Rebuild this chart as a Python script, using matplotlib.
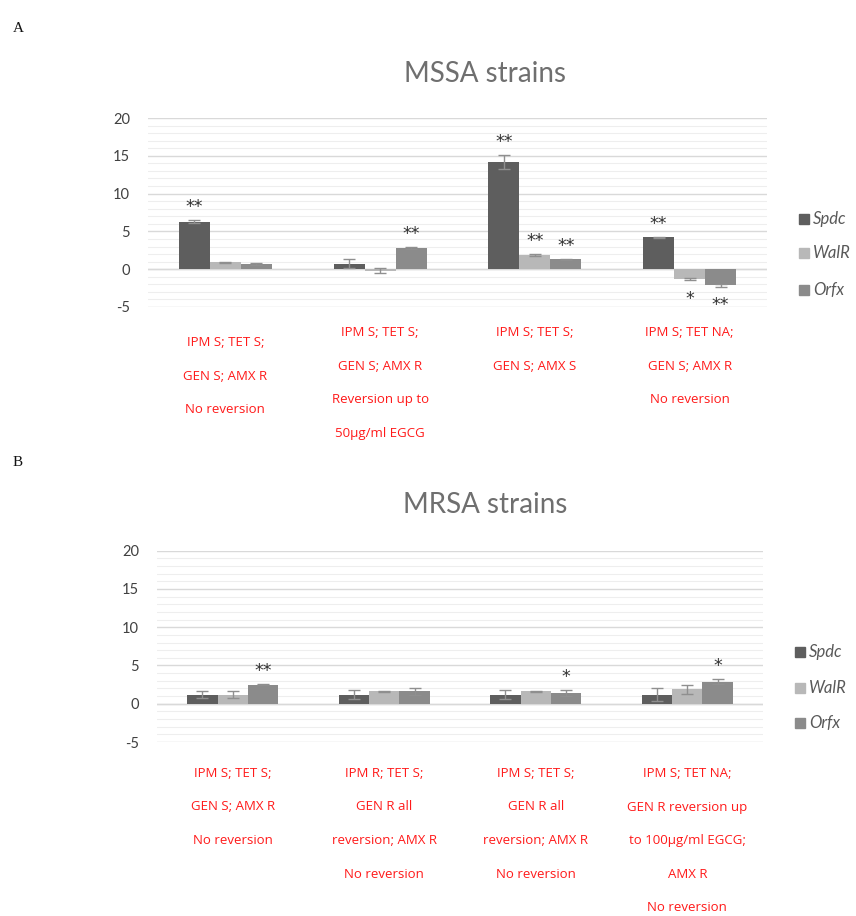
import matplotlib
matplotlib.use("Agg")
import matplotlib.pyplot as plt
import matplotlib.transforms as mtransforms
import numpy as np

plt.rcParams['font.family'] = ['Lato', 'DejaVu Sans']
plt.rcParams['axes.unicode_minus'] = False

genes = ["Spdc", "WalR", "Orfx"]
colors = ["#5e5e5e", "#b8b8b8", "#8b8b8b"]

# MSSA strains
mssa_labels = [
    "IPM S; TET S;\nGEN S; AMX R\nNo reversion",
    "IPM S; TET S;\nGEN S; AMX R\nReversion up to\n50\u00b5g/ml EGCG",
    "IPM S; TET S;\nGEN S; AMX S",
    "IPM S; TET NA;\nGEN S; AMX R\nNo reversion",
]
mssa_spdc = [6.3, 0.7, 14.2, 4.2]
mssa_walr = [0.9, -0.2, 1.9, -1.3]
mssa_orfx = [0.7, 2.8, 1.3, -2.1]
mssa_spdc_err = [0.15, 0.6, 0.9, 0.1]
mssa_walr_err = [0.1, 0.35, 0.1, 0.1]
mssa_orfx_err = [0.1, 0.1, 0.05, 0.2]
mssa_sig_spdc = ["**", "", "**", "**"]
mssa_sig_walr = ["", "", "**", "*"]
mssa_sig_orfx = ["", "**", "**", "**"]

# MRSA strains
mrsa_labels = [
    "IPM S; TET S;\nGEN S; AMX R\nNo reversion",
    "IPM R; TET S;\nGEN R all\nreversion; AMX R\nNo reversion",
    "IPM S; TET S;\nGEN R all\nreversion; AMX R\nNo reversion",
    "IPM S; TET NA;\nGEN R reversion up\nto 100\u00b5g/ml EGCG;\nAMX R\nNo reversion",
]
mrsa_spdc = [1.2, 1.2, 1.2, 1.2]
mrsa_walr = [1.2, 1.6, 1.6, 1.9]
mrsa_orfx = [2.5, 1.6, 1.4, 2.9]
mrsa_spdc_err = [0.4, 0.6, 0.6, 0.8]
mrsa_walr_err = [0.4, 0.1, 0.1, 0.6]
mrsa_orfx_err = [0.1, 0.4, 0.4, 0.35]
mrsa_sig_spdc = ["", "", "", ""]
mrsa_sig_walr = ["", "", "", ""]
mrsa_sig_orfx = ["**", "", "*", "*"]

yticks = [-5, 0, 5, 10, 15, 20]

W, H = 856, 916
fig = plt.figure(figsize=(W / 100, H / 100), dpi=100)


def panel(rect, title, title_y, labels, series, errs, sigs, label_tops, legend_ys, legend_x):
    ax = fig.add_axes(rect)
    n = len(labels)
    x = np.arange(n)
    bw = 0.2
    for k, (vals, err, sig) in enumerate(zip(series, errs, sigs)):
        xs = x + (k - 1) * bw
        ax.bar(xs, vals, width=bw, color=colors[k], zorder=3, label=genes[k])
        ax.errorbar(xs, vals, yerr=err, fmt="none", ecolor="#8f8f8f",
                    elinewidth=1.0, capsize=4, capthick=1.0, zorder=4)
        for xi, v, e, s in zip(xs, vals, err, sig):
            if not s:
                continue
            if v >= 0:
                ax.annotate(s, (xi, v + e), xytext=(0, 3), textcoords="offset points",
                            ha="center", va="bottom", fontsize=12.5, color="#333333",
                            fontfamily="DejaVu Sans")
            else:
                ax.annotate(s, (xi, v - e), xytext=(0, -7), textcoords="offset points",
                            ha="center", va="top", fontsize=12.5, color="#333333",
                            fontfamily="DejaVu Sans")
    ax.set_xlim(-0.5, n - 0.5)
    ax.set_ylim(-5, 20)
    ax.set_yticks(yticks)
    ax.set_yticks(np.arange(-5, 21, 1), minor=True)
    ax.tick_params(axis="y", which="both", length=0, pad=13, labelsize=10.5,
                   labelcolor="#404040")
    ax.tick_params(axis="x", which="both", length=0, labelbottom=False)
    ax.grid(axis="y", which="major", color="#d9d9d9", linewidth=1.0, zorder=0)
    ax.grid(axis="y", which="minor", color="#eeeeee", linewidth=0.8, zorder=0)
    ax.axhline(0, color="#d9d9d9", linewidth=1.0, zorder=2)
    for sp in ax.spines.values():
        sp.set_visible(False)

    trans = mtransforms.blended_transform_factory(ax.transData, fig.transFigure)
    for xi, lab, top in zip(x, labels, label_tops):
        ax.text(xi, 1 - top / H, lab, transform=trans, ha="center", va="top",
                color="#ff1a1a", fontsize=9.5, linespacing=3.05,
                fontfamily=["Open Sans", "DejaVu Sans"])

    fig.text(0.567, 1 - title_y / H, title, ha="center", va="center",
             fontsize=20, color="#6f6f6f")

    # legend entries
    for k, g in enumerate(genes):
        yy = 1 - legend_ys[k] / H
        fig.patches.append(plt.Rectangle((legend_x / W, yy - 5 / H), 10 / W, 10 / H,
                                         transform=fig.transFigure, color=colors[k],
                                         figure=fig))
        fig.text((legend_x + 14) / W, yy, g, ha="left", va="center", fontsize=12,
                 color="#595959", style="italic")
    return ax


panel([148 / W, 1 - 307 / H, 619 / W, 189 / H], "MSSA strains", 74,
      mssa_labels, [mssa_spdc, mssa_walr, mssa_orfx],
      [mssa_spdc_err, mssa_walr_err, mssa_orfx_err],
      [mssa_sig_spdc, mssa_sig_walr, mssa_sig_orfx],
      [336, 326, 326, 326], [219, 253, 290], 799)

panel([157 / W, 1 - 742 / H, 606 / W, 191.3 / H], "MRSA strains", 505,
      mrsa_labels, [mrsa_spdc, mrsa_walr, mrsa_orfx],
      [mrsa_spdc_err, mrsa_walr_err, mrsa_orfx_err],
      [mrsa_sig_spdc, mrsa_sig_walr, mrsa_sig_orfx],
      [767, 767, 767, 767], [652, 688, 723], 795)

fig.text(13 / W, 1 - 28 / H, "A", ha="left", va="center", fontsize=11,
         fontfamily="Liberation Serif", color="#111111")
fig.text(13 / W, 1 - 462 / H, "B", ha="left", va="center", fontsize=11,
         fontfamily="Liberation Serif", color="#111111")

fig.savefig("out.png", dpi=100)
